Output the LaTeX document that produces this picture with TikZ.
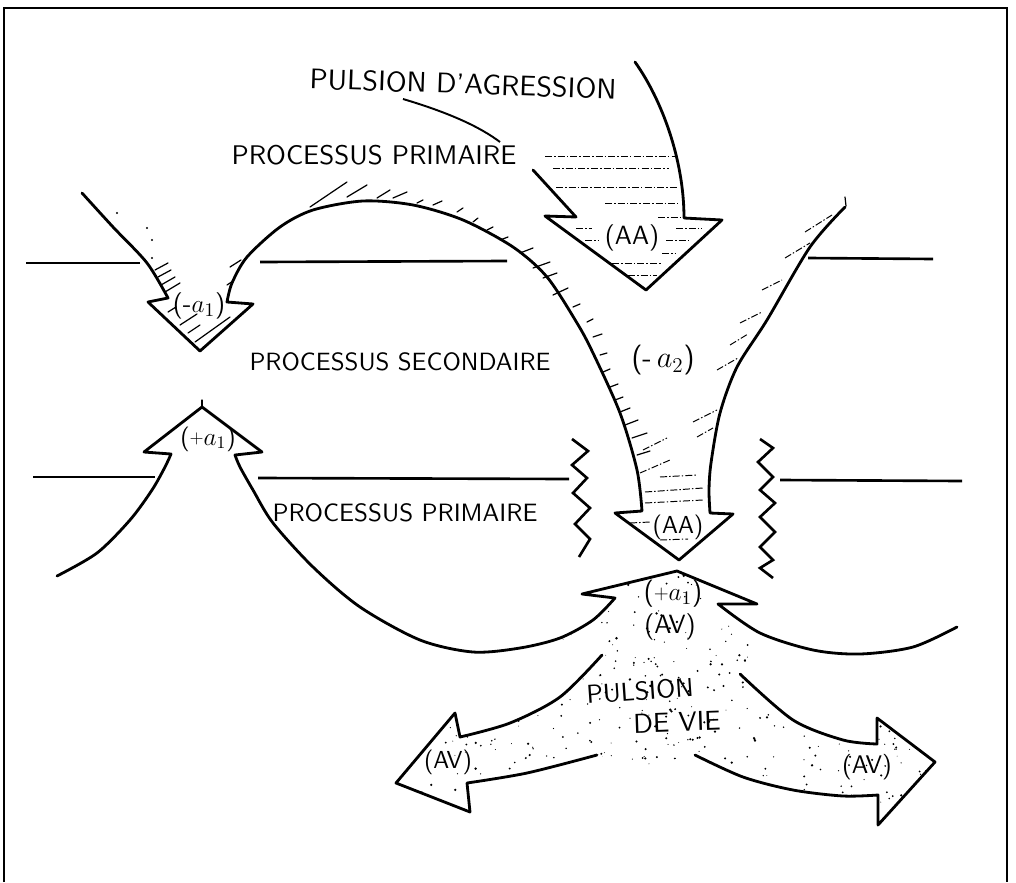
\documentclass[tikz,border=0pt]{standalone}
\usetikzlibrary{calc}
\newcommand{\fsz}[1]{\fontsize{#1}{#1}\selectfont}
\newcommand{\smallplus}{\raisebox{0.12ex}{\scalebox{0.75}{+}}}
\begin{document}
\begin{tikzpicture}[x=0.02cm,y=-0.02cm,
  outline/.style={line width=1.6pt, line join=round, line cap=round},
  level/.style={line width=1.5pt, line join=miter},
  hatch/.style={line width=0.7pt, line cap=round},
  dhatch/.style={line width=0.55pt, dash pattern=on 4pt off 1.2pt on 0.8pt off 1.2pt},
  lbl/.style={font=\sffamily, inner sep=0pt},
]
\useasboundingbox (0,0) rectangle (1016,882);

% frame
\draw[line width=1.4pt] (4,882) -- (4,8) -- (1007,8) -- (1007,882);

% levels of the psychic apparatus
\draw[level] (26,263) -- (140,263);
\draw[level] (260,262) -- (507,261);
\draw[level] (808,258) -- (933,259);
\draw[level] (33,477) -- (155,477);
\draw[level] (258,478) -- (569,479);
\draw[level] (780,480) -- (962,481);

% zigzag barriers
\draw[level] (572,439) -- (588,451) -- (572,465) -- (587,478) -- (573,493) -- (590,508) -- (575,524) -- (590,539) -- (579,557);
\draw[level] (760,439) -- (773,448) -- (758,462) -- (773,477) -- (760,490) -- (775,503) -- (760,517) -- (775,532) -- (760,547) -- (773,560) -- (760,568) -- (773,578);

% stippled life drive
\begin{scope}
\clip (582,594) -- (677,571) -- (757,604) -- (718,604) -- (760,633) -- (740,674)
  -- plot[smooth] coordinates {(740,674) (793,720) (843,740) (877,744)}
  -- (877,718) -- (935,762) -- (878,825) -- (878,795)
  -- plot[smooth] coordinates {(878,795) (843,796) (793,790) (743,777) (695,755)}
  -- (645,765) -- (597,755)
  -- plot[smooth] coordinates {(597,755) (527,773) (467,783)}
  -- (470,812) -- (396,783) -- (455,713)
  -- plot[smooth] coordinates {(460,737) (510,723) (560,697) (602,655)}
  -- (560,638) -- (593,620) -- (615,598) -- cycle;
\pgfmathsetseed{1234}
\foreach \k in {1,...,650}{
  \pgfmathsetmacro{\xx}{396+540*rnd}
  \pgfmathsetmacro{\yy}{571+255*rnd}
  \pgfmathsetmacro{\rr}{0.25+0.5*rnd}
  \fill (\xx,\yy) circle[radius=\rr pt];
}
\end{scope}

% aggression drive, upper arrow
\draw[outline] (533,170) -- (576,217) -- (545,216) -- (646,290) -- (722,220) -- (684,218)
  .. controls (684,160) and (662,100) .. (635,62);
\foreach \ya/\xa/\xb in {156/545/676, 168/553/669, 187/556/677, 203/605/678, 217/658/680,
  228/576/592, 228/676/702, 240/585/598, 240/666/690, 253/662/676, 263/612/662, 275/628/657}
  \draw[dhatch] (\xa,\ya) -- (\xb,\ya);

% (-a1) arrow and big arc down into the lower (AA) arrow
\draw[outline] plot[smooth] coordinates {(82,193) (113,227) (147,263) (168,298)}
  -- (148,302) -- (200,351) -- (253,304) -- (227,302)
  -- plot[smooth] coordinates {(227,302) (232,283) (247,257) (280,227) (313,210) (363,201)
     (413,205) (463,220) (513,247) (547,277) (577,323) (593,353) (620,413) (637,470) (642,511)}
  -- (615,513) -- (679,560) -- (733,514) -- (710,513)
  -- plot[smooth] coordinates {(710,513) (709,490) (711,463) (720,413) (737,367) (767,320) (810,247) (845,207)};
\draw[hatch] (845,197) -- (846,206);

% hatching outside the big arc
\foreach \xa/\ya/\xb/\yb in {310/207/347/182, 347/197/367/185, 377/198/390/190, 393/198/407/192,
  417/203/423/200, 433/205/442/201, 457/212/463/208, 473/222/478/218, 487/230/493/227,
  500/240/508/237, 520/253/533/248, 533/268/550/262, 543/278/557/273, 553/295/568/288,
  573/307/580/304, 587/322/593/319, 593/337/602/334, 600/355/607/353, 603/372/610/369,
  610/387/618/384, 615/400/623/397, 620/412/630/408, 625/425/638/420, 632/438/647/433,
  637/455/650/451}
  \draw[hatch] (\xa,\ya) -- (\xb,\yb);

% hatching inside the (-a2) branch
\foreach \xa/\ya/\xb/\yb in {805/232/832/215, 785/258/810/243, 762/290/782/280, 740/323/762/312,
  730/345/748/334, 717/370/738/358, 693/422/717/410, 697/437/713/428, 643/450/667/438,
  640/473/670/460, 660/477/697/475, 645/492/703/488, 645/503/703/500, 630/523/650/522,
  660/540/688/539}
  \draw[dhatch] (\xa,\ya) -- (\xb,\yb);

% hatching of the (-a1) arrow
\foreach \xa/\ya/\xb/\yb in {155/270/168/263, 158/277/171/270, 161/285/175/277, 165/292/180/283,
  168/312/176/307, 180/325/197/314, 188/333/200/325, 195/342/230/317, 230/267/241/260, 227/285/233/281}
  \draw[hatch] (\xa,\ya) -- (\xb,\yb);
\foreach \xa/\ya in {117/213, 147/228, 152/240, 152/258}
  \fill (\xa,\ya) circle[radius=0.7pt];

% (+a1) arrow, lower arc, (+a1)(AV) head
\draw[outline] plot[smooth] coordinates {(57,576) (97,553) (130,520) (152,490) (165,467) (171,454)}
  -- (144,452) -- (202,407) -- (262,452) -- (235,455)
  -- plot[smooth] coordinates {(235,455) (240,467) (253,490) (273,523) (313,567) (360,607)
     (420,640) (473,652) (520,648) (560,638) (593,620) (615,598)}
  -- (582,594) -- (677,571) -- (757,604) -- (718,604)
  -- plot[smooth] coordinates {(718,604) (760,633) (813,650) (860,654) (913,647) (957,627)};
\draw[hatch] (202,400) -- (202,407);

% life drive branches
\draw[outline] plot[smooth] coordinates {(602,655) (560,697) (510,723) (460,737)}
  -- (455,713) -- (396,783) -- (470,812) -- (467,783)
  -- plot[smooth] coordinates {(467,783) (527,773) (597,755)};
\draw[outline] plot[smooth] coordinates {(740,674) (793,720) (843,740) (877,744)}
  -- (877,718) -- (935,762) -- (878,825) -- (878,795)
  -- plot[smooth] coordinates {(878,795) (843,796) (793,790) (743,777) (695,755)};

% texts
\node[lbl, rotate=-2] (pa) at (463,84) {\resizebox{6.14cm}{!}{PULSION D’AGRESSION}};
\coordinate (ldA) at (403,99);
\coordinate (ldB) at (500,142);
\draw[line width=1.1pt] (ldA) .. controls (450,113) and (480,127) .. (ldB);
\node[lbl] (pp1) at (374,155) {\resizebox{5.7cm}{!}{PROCESSUS PRIMAIRE}};
\node[lbl] (ps) at (400,362) {\resizebox{6.02cm}{!}{PROCESSUS SECONDAIRE}};
\node[lbl] (pp2) at (405,513) {\resizebox{5.3cm}{!}{PROCESSUS PRIMAIRE}};
\node[lbl, rotate=4] (pv1) at (640,691) {\resizebox{2.15cm}{!}{PULSION}};
\node[lbl, rotate=2] (pv2) at (677,722) {\resizebox{1.75cm}{!}{DE VIE}};

\node[lbl, font=\sffamily\fsz{15}] (aa1) at (632,238) {(AA)};
\node[lbl, font=\sffamily\fsz{14}] (aa2) at (678,527) {(AA)};
\node[lbl, font=\sffamily\fsz{15}] (ma1) at (199,306) {(-$a_1$)};
\node[lbl, font=\sffamily\fsz{14}] (pa1) at (208,439) {(\smallplus$a_1$)};
\node[lbl, font=\sffamily\fsz{17}] (ma2) at (663,360) {(-\,$a_2$)};
\node[lbl, font=\sffamily\fsz{15.5}] (pa1b) at (673,594) {(\smallplus$a_1$)};
\node[lbl, font=\sffamily\fsz{15}] (av0) at (670,627) {(AV)};
\node[lbl, font=\sffamily\fsz{14}] (avl) at (448,762) {(AV)};
\node[lbl, font=\sffamily\fsz{14.5}] (avr) at (867,767) {(AV)};
\end{tikzpicture}
\end{document}
